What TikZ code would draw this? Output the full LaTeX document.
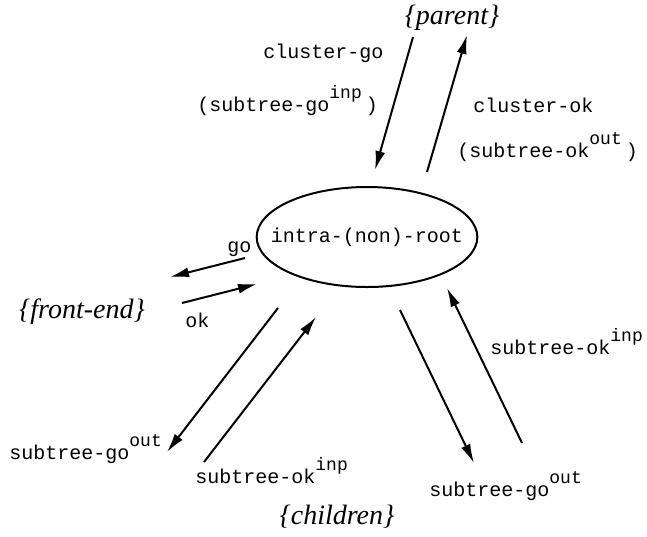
\documentclass[tikz,border=0pt]{standalone}
\usepackage{fontspec}
\setmainfont{Liberation Serif}
\setmonofont{Liberation Mono}
\usetikzlibrary{positioning,arrows.meta,shapes.geometric}

\newcommand{\upx}[1]{\raisebox{6.5pt}{\fontsize{9}{9}\selectfont #1}}

\begin{document}
\begin{tikzpicture}[x=0.5pt,y=-0.5pt,
    msg/.style={anchor=base west,inner sep=0pt,font=\ttfamily\fontsize{10}{12}\selectfont},
    place/.style={inner sep=0pt,font=\itshape\fontsize{14}{16}\selectfont},
    flow/.style={line width=1pt,-{Latex[length=9.5pt,width=5pt]}}]
    \useasboundingbox (0,0) rectangle (647,536);
    % Root
    \node[ellipse,draw,line width=1pt,minimum width=110pt,minimum height=50pt,inner xsep=-9pt,inner ysep=0pt,
        font=\ttfamily\fontsize{10}{12}\selectfont] (root) at (367,237) {intra-(non)-root};
    % Neighbours
    \node[place] (parent) at (452,18) {\{parent\}};
    \node[place] (frontend) at (82,312) {\{front-end\}};
    \node[place] (children) at (337,517) {\{children\}};
    % Arrow ends
    \coordinate (cgo1) at (413,37);  \coordinate (cgo2) at (375,170);
    \coordinate (cok1) at (427,172); \coordinate (cok2) at (467,35);
    \coordinate (fgo1) at (245,258); \coordinate (fgo2) at (170,277);
    \coordinate (fok1) at (182,303); \coordinate (fok2) at (257,284);
    \coordinate (lgo1) at (278,308); \coordinate (lgo2) at (167,452);
    \coordinate (lok1) at (204,462); \coordinate (lok2) at (316,317);
    \coordinate (rgo1) at (400,310); \coordinate (rgo2) at (474,463);
    \coordinate (rok1) at (522,443); \coordinate (rok2) at (447,288);
    \foreach \a in {cgo,cok,fgo,fok,lgo,lok,rgo,rok}
        \draw[flow] (\a1) -- (\a2);
    % Parent side
    \node[msg] (cgolbl) at (263,58) {cluster-go};
    \node[msg] (cgosub) at (197,111) {(subtree-go\upx{inp}\hspace{2pt})};
    \node[msg] (coklbl) at (473,112) {cluster-ok};
    \node[msg] (coksub) at (457,157) {(subtree-ok\upx{out}\hspace{2pt})};
    % Front-end side
    \node[msg] (fgolbl) at (227,252) {go};
    \node[msg] (foklbl) at (185,327) {ok};
    % Children side
    \node[msg] (lgolbl) at (9,459) {subtree-go\upx{out}};
    \node[msg] (loklbl) at (195,483) {subtree-ok\upx{inp}};
    \node[msg] (roklbl) at (490,354) {subtree-ok\upx{inp}};
    \node[msg] (rgolbl) at (429,496) {subtree-go\upx{out}};
\end{tikzpicture}
\end{document}
